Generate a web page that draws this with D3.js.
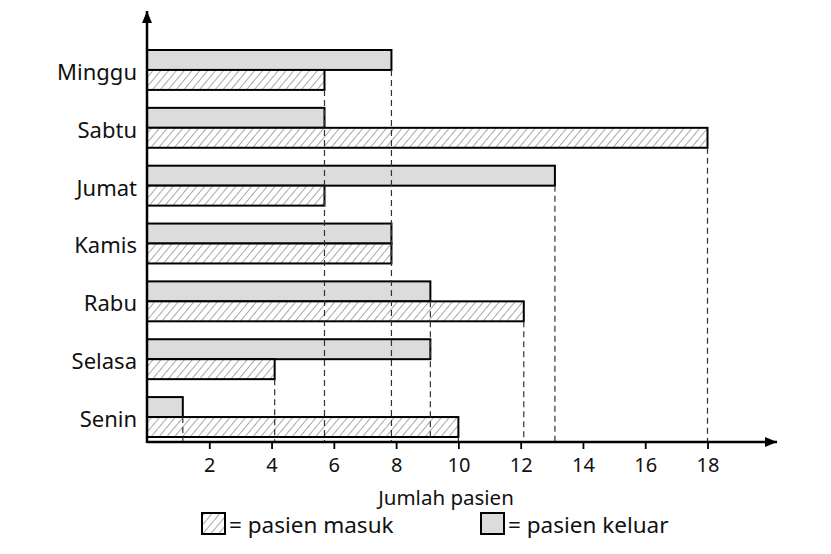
<!DOCTYPE html>
<html>
<head>
<meta charset="utf-8">
<script src="https://cdn.jsdelivr.net/npm/d3@7"></script>
<style>
  html, body { margin: 0; padding: 0; background: #ffffff; }
  svg { display: block; font-family: "Noto Sans", "Open Sans", sans-serif; }
</style>
</head>
<body>
<svg id="chart" width="831" height="554"></svg>
<script>
// ---- data (bottom to top as in the picture) ----
const days = ["Senin", "Selasa", "Rabu", "Kamis", "Jumat", "Sabtu", "Minggu"];
const pasienMasuk = [10, 4.1, 12.1, 7.85, 5.7, 18, 5.7];
const pasienKeluar = [1.15, 9.1, 9.1, 7.85, 13.1, 5.7, 7.85];
const xTicks = [2, 4, 6, 8, 10, 12, 14, 16, 18];
const xTitle = "Jumlah pasien";
const legendMasuk = "= pasien masuk";
const legendKeluar = "= pasien keluar";

const svg = d3.select("#chart");

// hatch pattern
const defs = svg.append("defs");
const pat = defs.append("pattern")
  .attr("id", "hatch")
  .attr("patternUnits", "userSpaceOnUse")
  .attr("width", 6).attr("height", 6)
  .attr("patternTransform", "rotate(40)");
pat.append("rect").attr("width", 6).attr("height", 6).attr("fill", "#ffffff");
pat.append("line").attr("x1", 0).attr("y1", 0).attr("x2", 0).attr("y2", 6)
  .attr("stroke", "#7a7a7a").attr("stroke-width", 1.3);

defs.append("marker").attr("id", "arrow")
  .attr("viewBox", "0 0 12 10").attr("refX", 12).attr("refY", 5)
  .attr("markerWidth", 12).attr("markerHeight", 10)
  .attr("markerUnits", "userSpaceOnUse")
  .attr("orient", "auto")
  .append("path").attr("d", "M0,0 L12,5 L0,10 Z").attr("fill", "#000");

const x0 = 147, axisY = 442;
const x = d3.scaleLinear().domain([0, 18]).range([x0, 707.5]);
const y = d3.scaleBand().domain(days.slice().reverse()).range([50, 437]).paddingInner(0.31).paddingOuter(0);
const sub = d3.scaleBand().domain(["keluar", "masuk"]).range([0, y.bandwidth()]);

const rows = days.map((d, i) => ({ day: d, masuk: pasienMasuk[i], keluar: pasienKeluar[i] }));
const bars = [];
rows.forEach(r => {
  bars.push({ day: r.day, key: "keluar", v: r.keluar });
  bars.push({ day: r.day, key: "masuk", v: r.masuk });
});

// dashed guide lines: one per distinct value, from the highest bar bottom down to the axis
const guides = d3.rollups(bars, vs => d3.min(vs, b => y(b.day) + sub(b.key) + sub.bandwidth()), b => b.v);

// bars
svg.append("g").selectAll("rect").data(bars).join("rect")
  .attr("x", x(0))
  .attr("y", d => y(d.day) + sub(d.key))
  .attr("width", d => x(d.v) - x(0))
  .attr("height", sub.bandwidth())
  .attr("fill", d => d.key === "keluar" ? "#dcdcdc" : "url(#hatch)")
  .attr("stroke", "#000").attr("stroke-width", 2);

// guides over the bars (dashes visible through bars)
svg.append("g").selectAll("line").data(guides).join("line")
  .attr("x1", d => x(d[0])).attr("x2", d => x(d[0]))
  .attr("y1", d => d[1]).attr("y2", axisY)
  .attr("stroke", "#333").attr("stroke-width", 1.2)
  .attr("stroke-dasharray", "6,4");

// x axis
const xAxis = svg.append("g").attr("transform", `translate(0,${axisY})`)
  .call(d3.axisBottom(x).tickValues(xTicks).tickSize(7).tickPadding(9));
xAxis.select(".domain").remove();
xAxis.selectAll(".tick line").attr("stroke", "#000").attr("stroke-width", 1.8);
xAxis.selectAll(".tick text").attr("font-size", 20).attr("fill", "#111")
  .attr("font-family", "Noto Sans, sans-serif");

svg.append("line").attr("x1", x0).attr("x2", 777).attr("y1", axisY).attr("y2", axisY)
  .attr("stroke", "#000").attr("stroke-width", 2.5).attr("marker-end", "url(#arrow)");
svg.append("line").attr("x1", x0).attr("x2", x0).attr("y1", axisY + 1).attr("y2", 11)
  .attr("stroke", "#000").attr("stroke-width", 2.5).attr("marker-end", "url(#arrow)");

// y labels
const yAxis = svg.append("g").attr("transform", `translate(${x0},0)`)
  .call(d3.axisLeft(y).tickSize(0).tickPadding(10));
yAxis.select(".domain").remove();
yAxis.selectAll(".tick text").attr("font-size", 22).attr("fill", "#111")
  .attr("font-family", "Noto Sans, sans-serif").attr("dy", "0.45em");

// axis title
svg.append("text").attr("x", 446).attr("y", 505).attr("text-anchor", "middle")
  .attr("font-size", 20.5).attr("fill", "#111").text(xTitle);

// legend
svg.append("rect").attr("x", 202).attr("y", 513).attr("width", 23).attr("height", 21)
  .attr("fill", "url(#hatch)").attr("stroke", "#000").attr("stroke-width", 2);
svg.append("text").attr("x", 229).attr("y", 533).attr("font-size", 22.5).attr("fill", "#111").text(legendMasuk);
svg.append("rect").attr("x", 481).attr("y", 513).attr("width", 23).attr("height", 21)
  .attr("fill", "#dcdcdc").attr("stroke", "#000").attr("stroke-width", 2);
svg.append("text").attr("x", 508).attr("y", 533).attr("font-size", 22.5).attr("fill", "#111").text(legendKeluar);
</script>
</body>
</html>
